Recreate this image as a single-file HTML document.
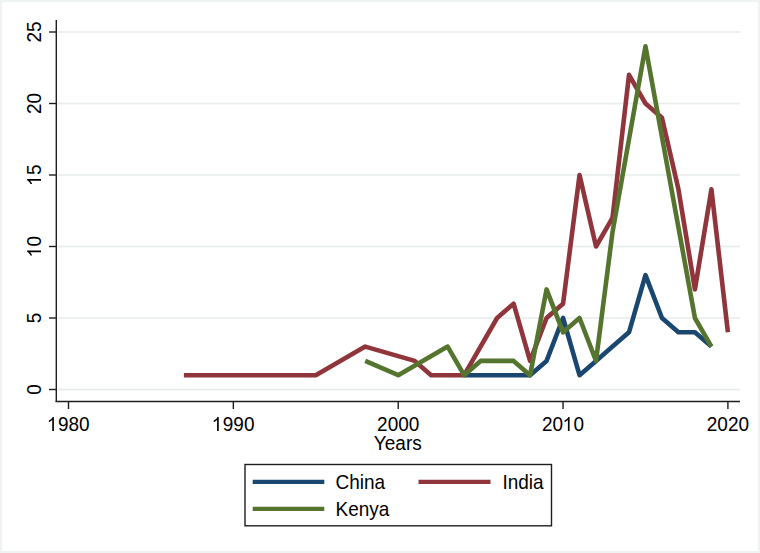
<!DOCTYPE html>
<html><head><meta charset="utf-8"><style>
html,body{margin:0;padding:0;background:#fff;}
body{width:760px;height:553px;overflow:hidden;}
svg{display:block;font-family:"Liberation Sans",sans-serif;font-size:19px;fill:#000;}
</style></head><body>
<svg width="760" height="553" viewBox="0 0 760 553">
<rect x="0" y="0" width="760" height="553" fill="#eff4f3"/>
<rect x="2" y="2" width="756" height="549" fill="#fff"/>
<rect x="58" y="388.65" width="682" height="1.7" fill="#e9eeed"/>
<rect x="58" y="317.15" width="682" height="1.7" fill="#e9eeed"/>
<rect x="58" y="245.65" width="682" height="1.7" fill="#e9eeed"/>
<rect x="58" y="174.15" width="682" height="1.7" fill="#e9eeed"/>
<rect x="58" y="102.65" width="682" height="1.7" fill="#e9eeed"/>
<rect x="58" y="31.15" width="682" height="1.7" fill="#e9eeed"/>
<line x1="56.3" y1="20" x2="56.3" y2="402" stroke="#1e1e1e" stroke-width="1.4"/>
<line x1="49" y1="389.50" x2="56.3" y2="389.50" stroke="#1e1e1e" stroke-width="1.4"/>
<g transform="translate(41.00,389.50) rotate(-90) scale(1,1.06)"><text x="-5.28" y="0">0</text></g>
<line x1="49" y1="318.00" x2="56.3" y2="318.00" stroke="#1e1e1e" stroke-width="1.4"/>
<g transform="translate(41.00,318.00) rotate(-90) scale(1,1.06)"><text x="-5.28" y="0">5</text></g>
<line x1="49" y1="246.50" x2="56.3" y2="246.50" stroke="#1e1e1e" stroke-width="1.4"/>
<g transform="translate(41.00,246.50) rotate(-90) scale(1,1.06)"><path transform="translate(-11.12,0) scale(0.009277,-0.008953)" d="M763,0L583,0L583,1147C540,1106 483,1065 413,1024C343,983 280,952 223,931L223,1104C320,1149 404,1203 476,1267C548,1331 599,1397 629,1466L763,1466Z"/><text x="0.00" y="0">0</text></g>
<line x1="49" y1="175.00" x2="56.3" y2="175.00" stroke="#1e1e1e" stroke-width="1.4"/>
<g transform="translate(41.00,175.00) rotate(-90) scale(1,1.06)"><path transform="translate(-11.12,0) scale(0.009277,-0.008953)" d="M763,0L583,0L583,1147C540,1106 483,1065 413,1024C343,983 280,952 223,931L223,1104C320,1149 404,1203 476,1267C548,1331 599,1397 629,1466L763,1466Z"/><text x="0.00" y="0">5</text></g>
<line x1="49" y1="103.50" x2="56.3" y2="103.50" stroke="#1e1e1e" stroke-width="1.4"/>
<g transform="translate(41.00,103.50) rotate(-90) scale(1,1.06)"><text x="-10.57" y="0">20</text></g>
<line x1="49" y1="32.00" x2="56.3" y2="32.00" stroke="#1e1e1e" stroke-width="1.4"/>
<g transform="translate(41.00,32.00) rotate(-90) scale(1,1.06)"><text x="-10.57" y="0">25</text></g>
<line x1="55.6" y1="401.5" x2="740" y2="401.5" stroke="#1e1e1e" stroke-width="1.4"/>
<line x1="68.50" y1="401.5" x2="68.50" y2="409" stroke="#1e1e1e" stroke-width="1.4"/>
<g transform="translate(68.50,431.00) rotate(0) scale(1,1.06)"><path transform="translate(-21.68,0) scale(0.009277,-0.008953)" d="M763,0L583,0L583,1147C540,1106 483,1065 413,1024C343,983 280,952 223,931L223,1104C320,1149 404,1203 476,1267C548,1331 599,1397 629,1466L763,1466Z"/><text x="-10.57" y="0">980</text></g>
<line x1="233.35" y1="401.5" x2="233.35" y2="409" stroke="#1e1e1e" stroke-width="1.4"/>
<g transform="translate(233.35,431.00) rotate(0) scale(1,1.06)"><path transform="translate(-21.68,0) scale(0.009277,-0.008953)" d="M763,0L583,0L583,1147C540,1106 483,1065 413,1024C343,983 280,952 223,931L223,1104C320,1149 404,1203 476,1267C548,1331 599,1397 629,1466L763,1466Z"/><text x="-10.57" y="0">990</text></g>
<line x1="398.20" y1="401.5" x2="398.20" y2="409" stroke="#1e1e1e" stroke-width="1.4"/>
<g transform="translate(398.20,431.00) rotate(0) scale(1,1.06)"><text x="-21.13" y="0">2000</text></g>
<line x1="563.05" y1="401.5" x2="563.05" y2="409" stroke="#1e1e1e" stroke-width="1.4"/>
<g transform="translate(563.05,431.00) rotate(0) scale(1,1.06)"><text x="-21.13" y="0">20</text><path transform="translate(-0.55,0) scale(0.009277,-0.008953)" d="M763,0L583,0L583,1147C540,1106 483,1065 413,1024C343,983 280,952 223,931L223,1104C320,1149 404,1203 476,1267C548,1331 599,1397 629,1466L763,1466Z"/><text x="10.57" y="0">0</text></g>
<line x1="727.90" y1="401.5" x2="727.90" y2="409" stroke="#1e1e1e" stroke-width="1.4"/>
<g transform="translate(727.90,431.00) rotate(0) scale(1,1.06)"><text x="-21.13" y="0">2020</text></g>
<text x="397.8" y="0" text-anchor="middle" transform="translate(0,450.4) scale(1,1.06)">Years</text>
<polyline points="464.14,375.20 480.62,375.20 497.11,375.20 513.60,375.20 530.08,375.20 546.56,360.90 563.05,318.00 579.53,375.20 596.02,360.90 612.50,346.60 628.99,332.30 645.48,275.10 661.96,318.00 678.44,332.30 694.93,332.30 711.41,346.60" fill="none" stroke="#1a476f" stroke-width="4.6" stroke-linejoin="round" stroke-linecap="butt"/>
<polyline points="183.90,375.20 315.77,375.20 365.23,346.60 414.69,360.90 431.17,375.20 464.14,375.20 497.11,318.00 513.60,303.70 530.08,360.90 546.56,318.00 563.05,303.70 579.53,175.00 596.02,246.50 612.50,217.90 628.99,74.90 645.48,103.50 661.96,117.80 678.44,189.30 694.93,289.40 711.41,189.30 727.90,332.30" fill="none" stroke="#90353b" stroke-width="4.6" stroke-linejoin="round" stroke-linecap="butt"/>
<polyline points="365.23,360.90 398.20,375.20 447.65,346.60 464.14,375.20 480.62,360.90 497.11,360.90 513.60,360.90 530.08,375.20 546.56,289.40 563.05,332.30 579.53,318.00 596.02,360.90 612.50,232.20 645.48,46.30 694.93,318.00 711.41,346.60" fill="none" stroke="#55752f" stroke-width="4.6" stroke-linejoin="round" stroke-linecap="butt"/>
<rect x="245" y="464.5" width="306.5" height="61.3" fill="#fff" stroke="#1e1e1e" stroke-width="1.4"/>
<line x1="252.7" y1="481.8" x2="324.3" y2="481.8" stroke="#1a476f" stroke-width="4.3"/>
<line x1="418.5" y1="481.8" x2="490.5" y2="481.8" stroke="#90353b" stroke-width="4.3"/>
<line x1="252.7" y1="508.8" x2="324.3" y2="508.8" stroke="#55752f" stroke-width="4.3"/>
<text x="335.5" y="0" transform="translate(0,488.9) scale(1,1.03)">China</text>
<text x="502.5" y="0" transform="translate(0,488.9) scale(1,1.03)">India</text>
<text x="335.5" y="0" transform="translate(0,515.5) scale(1,1.03)">Kenya</text>
</svg>
</body></html>
